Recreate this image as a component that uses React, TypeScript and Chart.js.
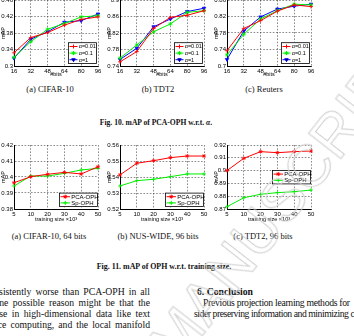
import React, { useEffect, useRef } from "react";
import { Chart, registerables } from "chart.js";
import { drawPoint } from "chart.js/helpers";

Chart.register(...registerables);

// ---- Fig. 10: mAP of PCA-OPH for different alpha values ----
const bitLabels = ["16", "32", "48", "64", "80", "96"];

const cifarAlpha001 = [0.332, 0.369, 0.381, 0.399, 0.413, 0.419];
const cifarAlpha01 = [0.321, 0.359, 0.389, 0.403, 0.419, 0.422];
const cifarAlpha1 = [0.319, 0.365, 0.383, 0.406, 0.41, 0.426];
const cifarTicks = [0.3, 0.34, 0.38, 0.42, 0.46];

const tdtAlpha001 = [0.75, 0.775, 0.831, 0.858, 0.863, 0.874];
const tdtAlpha01 = [0.759, 0.791, 0.823, 0.842, 0.87, 0.874];
const tdtAlpha1 = [0.756, 0.783, 0.835, 0.854, 0.872, 0.88];
const tdtTicks = [0.74, 0.78, 0.82, 0.86, 0.9];

const reutersAlpha001 = [0.737, 0.791, 0.81, 0.833, 0.848, 0.844];
const reutersAlpha01 = [0.727, 0.777, 0.814, 0.834, 0.85, 0.848];
const reutersAlpha1 = [0.716, 0.785, 0.819, 0.838, 0.845, 0.85];
const reutersTicks = [0.7, 0.74, 0.78, 0.82, 0.86];

// ---- Fig. 11: mAP of OPH for different training sizes ----
const sizeLabels = ["5", "10", "20", "30", "40", "50"];

const cifar64Pca = [0.3964, 0.4002, 0.4017, 0.4029, 0.4019, 0.4064];
const cifar64Sp = [0.3944, 0.4006, 0.4006, 0.4023, 0.4044, 0.4054];
const cifar64Ticks = [0.38, 0.39, 0.4, 0.41, 0.42];

const nusPca = [0.5413, 0.5486, 0.5502, 0.5521, 0.5531, 0.5531];
const nusSp = [0.5344, 0.5377, 0.5386, 0.5402, 0.5419, 0.5419];
const nusTicks = [0.52, 0.53, 0.54, 0.55, 0.56];

const tdt96Pca = [0.9, 0.9096, 0.9148, 0.914, 0.9148, 0.9153];
const tdt96Sp = [0.8718, 0.8788, 0.8815, 0.8828, 0.8835, 0.8848];
const tdt96Ticks = [0.87, 0.88, 0.89, 0.9, 0.91, 0.92];

const RED = "#ff0000";
const GREEN = "#00ee00";
const BLUE = "#0000ff";
const AXIS_FONT = "'Liberation Sans', Arial, sans-serif";
const SERIF = "'Liberation Serif', 'Times New Roman', serif";

type Series = {
  label: string;
  data: number[];
  color: string;
  marker: string;
  rotation?: number;
};

type LegendSpec = {
  width: number;
  rowH: number;
  fontSize: number;
  sample: number;
  right: number;
  bottom?: number;
  top?: number;
};

type PanelProps = {
  left: number;
  top: number;
  w: number;
  h: number;
  xH: number;
  xLabels: string[];
  yTicks: number[];
  xTitle: string;
  series: Series[];
  legend: LegendSpec;
};

// Legend box drawn inside the plot area, as in MATLAB figures
function boxLegend(spec: LegendSpec) {
  return {
    id: "boxLegend",
    afterDatasetsDraw(chart: any) {
      const { ctx, chartArea } = chart;
      const sets = chart.data.datasets;
      const h = spec.rowH * sets.length + 2;
      const x = chartArea.right - spec.right - spec.width;
      const y =
        spec.top !== undefined
          ? chartArea.top + spec.top
          : chartArea.bottom - (spec.bottom || 0) - h;
      ctx.save();
      ctx.fillStyle = "#fff";
      ctx.fillRect(x, y, spec.width, h);
      ctx.strokeStyle = "#000";
      ctx.lineWidth = 0.8;
      ctx.strokeRect(x + 0.5, y + 0.5, spec.width - 1, h - 1);
      ctx.font = `${spec.fontSize}px ${AXIS_FONT}`;
      ctx.textBaseline = "middle";
      ctx.textAlign = "left";
      sets.forEach((ds: any, i: number) => {
        const cy = y + 1 + spec.rowH * (i + 0.5);
        const x0 = x + 1.5;
        const x1 = x0 + spec.sample;
        ctx.strokeStyle = ds.borderColor;
        ctx.lineWidth = 1;
        ctx.beginPath();
        ctx.moveTo(x0, cy);
        ctx.lineTo(x1, cy);
        ctx.stroke();
        drawPoint(
          ctx,
          {
            pointStyle: ds.pointStyle,
            radius: 2,
            rotation: ds.pointRotation || 0,
            borderWidth: 0.8,
          } as any,
          (x0 + x1) / 2,
          cy
        );
        ctx.fillStyle = "#000";
        ctx.fillText(ds.label, x1 + 1.2, cy + 0.3);
      });
      ctx.restore();
    },
  };
}

function Panel(p: PanelProps) {
  const ref = useRef<HTMLCanvasElement>(null);
  const yW = 14;
  const padT = 6;
  const padR = 7;
  const cw = yW + p.w + padR;
  const ch = padT + p.h + p.xH;

  useEffect(() => {
    const tickFont = { family: AXIS_FONT, size: 6 };
    const titleFont = { family: AXIS_FONT, size: 5.5, lineHeight: 1.1 };
    const gridOpts = { color: "#3a3a3a", lineWidth: 0.6, drawTicks: false };
    const borderOpts = { display: true, color: "#000", width: 1, dash: [1.6, 1.6] };
    const chart = new Chart(ref.current as HTMLCanvasElement, {
      type: "line",
      data: {
        labels: p.xLabels,
        datasets: p.series.map((s) => ({
          label: s.label,
          data: s.data,
          borderColor: s.color,
          backgroundColor: s.color,
          borderWidth: 1,
          pointStyle: s.marker as any,
          pointRadius: 2,
          pointRotation: s.rotation || 0,
          pointBorderWidth: 0.8,
          pointBorderColor: s.color,
          pointBackgroundColor: s.color,
          tension: 0,
          fill: false,
        })),
      },
      options: {
        responsive: false,
        animation: false,
        devicePixelRatio: 1,
        layout: { padding: { top: padT, right: padR, left: 0, bottom: 0 } },
        plugins: { legend: { display: false }, tooltip: { enabled: false } },
        scales: {
          x: {
            type: "category",
            offset: false,
            grid: gridOpts,
            border: borderOpts,
            ticks: {
              font: tickFont,
              color: "#000",
              padding: 1.5,
              maxRotation: 0,
              autoSkip: false,
            },
            title: {
              display: true,
              text: p.xTitle,
              font: titleFont,
              color: "#000",
              padding: 0,
            },
            afterFit(scale: any) {
              scale.height = p.xH;
            },
          },
          y: {
            type: "linear",
            min: p.yTicks[0],
            max: p.yTicks[p.yTicks.length - 1],
            grid: gridOpts,
            border: borderOpts,
            ticks: {
              font: tickFont,
              color: "#000",
              padding: 1,
              callback: (v: any) => String(Number(Number(v).toFixed(3))),
            },
            afterBuildTicks(scale: any) {
              scale.ticks = p.yTicks.map((v) => ({ value: v }));
            },
            title: {
              display: true,
              text: "mAP",
              font: titleFont,
              color: "#000",
              padding: 0,
            },
            afterFit(scale: any) {
              scale.width = yW;
            },
          },
        },
      } as any,
      plugins: [boxLegend(p.legend)],
    });
    return () => chart.destroy();
  }, []);

  return (
    <canvas
      ref={ref}
      width={cw}
      height={ch}
      style={{
        position: "absolute",
        left: p.left - yW,
        top: p.top - padT,
        width: cw,
        height: ch,
      }}
    />
  );
}

function Label(props: {
  x: number;
  y: number;
  size: number;
  align?: "left" | "center" | "right";
  bold?: boolean;
  wordSpacing?: number;
  letterSpacing?: number;
  children: React.ReactNode;
}) {
  const { x, y, size, align = "left", bold, wordSpacing = 0, letterSpacing = 0, children } = props;
  const box = 400;
  const left = align === "left" ? x : align === "center" ? x - box / 2 : x - box;
  return (
    <div
      style={{
        position: "absolute",
        left,
        top: y - size / 2,
        width: box,
        textAlign: align,
        fontFamily: SERIF,
        fontSize: size,
        lineHeight: `${size}px`,
        fontWeight: bold ? "bold" : "normal",
        whiteSpace: "nowrap",
        wordSpacing,
        letterSpacing,
        color: "#111",
      }}
    >
      {children}
    </div>
  );
}

const alphaSeries = (a: number[], b: number[], c: number[]): Series[] => [
  { label: "α=0.01", data: a, color: RED, marker: "cross" },
  { label: "α=0.1", data: b, color: GREEN, marker: "star" },
  { label: "α=1", data: c, color: BLUE, marker: "triangle", rotation: 180 },
];

const sizeSeries = (a: number[], b: number[]): Series[] => [
  { label: "PCA-OPH", data: a, color: RED, marker: "star" },
  { label: "Sp-OPH", data: b, color: GREEN, marker: "cross" },
];

const alphaLegend: LegendSpec = { width: 29, rowH: 6.6, fontSize: 5.5, sample: 8, right: 1, bottom: 2 };
const sizeLegend: LegendSpec = { width: 39, rowH: 6.2, fontSize: 6, sample: 9.5, right: 0, bottom: 2 };

export default function App() {
  const colX = [14, 120, 227];
  return (
    <div
      style={{
        position: "relative",
        width: 354,
        height: 336,
        overflow: "hidden",
        background: "#fff",
      }}
    >
      <style>{`body{margin:0;background:#fff;}`}</style>

      <Panel left={colX[0]} top={0} w={84} h={66} xH={12} xLabels={bitLabels} yTicks={cifarTicks}
        xTitle="#bits" series={alphaSeries(cifarAlpha001, cifarAlpha01, cifarAlpha1)} legend={alphaLegend} />
      <Panel left={colX[1]} top={0} w={84} h={66} xH={12} xLabels={bitLabels} yTicks={tdtTicks}
        xTitle="#bits" series={alphaSeries(tdtAlpha001, tdtAlpha01, tdtAlpha1)} legend={alphaLegend} />
      <Panel left={colX[2]} top={0} w={84} h={66} xH={12} xLabels={bitLabels} yTicks={reutersTicks}
        xTitle="#bits" series={alphaSeries(reutersAlpha001, reutersAlpha01, reutersAlpha1)} legend={alphaLegend} />

      <Label x={50} y={89} size={8.5} align="center">(a) CIFAR-10</Label>
      <Label x={158} y={89} size={8.5} align="center">(b) TDT2</Label>
      <Label x={264} y={89} size={8.5} align="center">(c) Reuters</Label>
      <Label x={156} y={123} size={7.6} align="center" bold>
        Fig. 10. mAP of PCA-OPH w.r.t. <i>α</i>.
      </Label>

      <Panel left={colX[0]} top={145} w={84} h={64} xH={14} xLabels={sizeLabels} yTicks={cifar64Ticks}
        xTitle="training size ×10³" series={sizeSeries(cifar64Pca, cifar64Sp)} legend={sizeLegend} />
      <Panel left={colX[1]} top={145} w={84} h={64} xH={14} xLabels={sizeLabels} yTicks={nusTicks}
        xTitle="training size ×10³" series={sizeSeries(nusPca, nusSp)} legend={sizeLegend} />
      <Panel left={colX[2]} top={145} w={84} h={64} xH={14} xLabels={sizeLabels} yTicks={tdt96Ticks}
        xTitle="training size ×10³" series={sizeSeries(tdt96Pca, tdt96Sp)}
        legend={{ ...sizeLegend, bottom: undefined, top: 25 }} />

      <Label x={49} y={236} size={8.5} align="center">(a) CIFAR-10, 64 bits</Label>
      <Label x={158} y={236} size={8.5} align="center">(b) NUS-WIDE, 96 bits</Label>
      <Label x={263} y={236} size={8.5} align="center">(c) TDT2, 96 bits</Label>
      <Label x={164} y={267} size={7.9} align="center" bold>
        Fig. 11. mAP of OPH w.r.t. training size.
      </Label>

      <Label x={150} y={292} size={9.7} align="right" wordSpacing={1.6}>consistently worse than PCA-OPH in all</Label>
      <Label x={150} y={303} size={9.7} align="right" wordSpacing={2}>One possible reason might be that the</Label>
      <Label x={150} y={314} size={9.7} align="right" wordSpacing={2}>sparse in high-dimensional data like text</Label>
      <Label x={150} y={325} size={9.7} align="right" wordSpacing={1.6}>distance computing, and the local manifold</Label>

      <Label x={197} y={292} size={9.7} bold>6. Conclusion</Label>
      <Label x={203} y={303} size={9.7} letterSpacing={-0.3}>Previous projection learning methods for</Label>
      <Label x={194} y={314} size={9.7} letterSpacing={-0.45}>sider preserving information and minimizing con-</Label>

      <div
        style={{
          position: "absolute",
          left: 162,
          top: 325,
          fontFamily: AXIS_FONT,
          fontSize: 60,
          whiteSpace: "nowrap",
          color: "transparent",
          WebkitTextStroke: "1px #cfcfcf",
          transform: "rotate(-52deg)",
          transformOrigin: "0 50%",
          pointerEvents: "none",
          lineHeight: "60px",
        }}
      >
        MANUSCRIPT
      </div>
    </div>
  );
}
